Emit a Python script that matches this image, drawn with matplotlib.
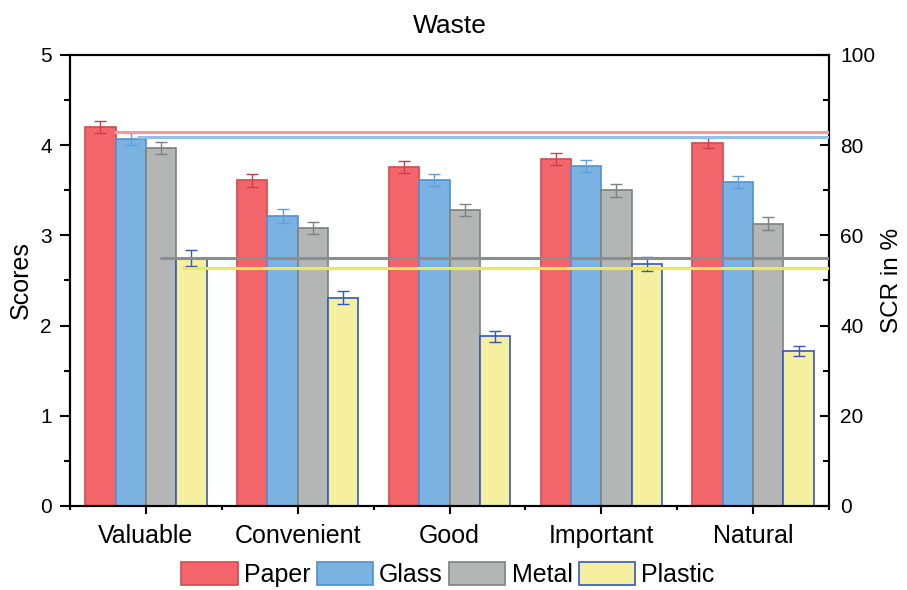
import matplotlib

matplotlib.use("Agg")
import matplotlib.pyplot as plt
import numpy as np
from matplotlib.patches import Patch
from matplotlib.ticker import MultipleLocator

plt.rcParams["font.family"] = ["Liberation Sans", "DejaVu Sans"]

categories = ["Valuable", "Convenient", "Good", "Important", "Natural"]
materials = ["Paper", "Glass", "Metal", "Plastic"]

paper = [4.20, 3.61, 3.76, 3.85, 4.02]
glass = [4.07, 3.22, 3.61, 3.77, 3.59]
metal = [3.97, 3.08, 3.28, 3.50, 3.13]
plastic = [2.75, 2.31, 1.88, 2.68, 1.72]

paper_err = [0.063, 0.07, 0.067, 0.065, 0.055]
glass_err = [0.065, 0.078, 0.068, 0.065, 0.065]
metal_err = [0.07, 0.07, 0.069, 0.07, 0.07]
plastic_err = [0.085, 0.074, 0.065, 0.075, 0.055]

# SCR per material, in percent, with the x where each reference line begins
scr = [82.9, 81.9, 54.9, 52.8]
scr_start = [0.79, 0.94, 1.09, 1.24]

fills = ["#F2666B", "#7AB3E1", "#B4B6B6", "#F4F0A0"]
edges = ["#D9474F", "#4F91D0", "#7E8080", "#3558B8"]
err_colors = ["#C8404A", "#5A9FE0", "#808080", "#3558B8"]
line_colors = ["#F29A9C", "#8EC2EC", "#8C8E8E", "#EDE85A"]

fig = plt.figure(figsize=(9.07, 5.9), dpi=100)
ax = fig.add_axes([0.0772, 0.1424, 0.8368, 0.7644])
ax2 = ax.twinx()

x = np.arange(1, len(categories) + 1)
width = 0.2
series = [paper, glass, metal, plastic]
errors = [paper_err, glass_err, metal_err, plastic_err]
for i, (vals, errs) in enumerate(zip(series, errors)):
    pos = x + (i - 1.5) * width
    ax.bar(pos, vals, width, color=fills[i], edgecolor=edges[i], linewidth=1.2, zorder=2)
    ax.errorbar(pos, vals, yerr=errs, fmt="none", ecolor=err_colors[i],
                elinewidth=1.0, capsize=4, capthick=1.0, zorder=3)

for i in range(len(materials)):
    ax2.plot([scr_start[i], 5.5], [scr[i], scr[i]], color=line_colors[i],
             linewidth=2.2, solid_capstyle="butt", zorder=4)

ax.set_xlim(0.5, 5.5)
ax.set_ylim(0, 5)
ax2.set_ylim(0, 100)
ax.set_xticks(x)
ax.set_xticklabels(categories)
ax.xaxis.set_minor_locator(MultipleLocator(1, offset=0.5))
ax.yaxis.set_major_locator(MultipleLocator(1))
ax.yaxis.set_minor_locator(MultipleLocator(0.5))
ax2.yaxis.set_major_locator(MultipleLocator(20))
ax2.yaxis.set_minor_locator(MultipleLocator(10))

for a in (ax, ax2):
    for s in a.spines.values():
        s.set_linewidth(1.5)
ax.tick_params(axis="y", which="major", direction="out", length=7, width=1.5, labelsize=15, pad=6)
ax.tick_params(axis="y", which="minor", direction="out", length=4.5, width=1.5)
ax.tick_params(axis="x", which="major", direction="out", length=6, width=1.5, labelsize=18, pad=7)
ax.tick_params(axis="x", which="minor", direction="out", length=3, width=1.5)
ax2.tick_params(axis="y", which="major", direction="in", length=6.5, width=1.5, labelsize=15, pad=8)
ax2.tick_params(axis="y", which="minor", direction="in", length=4, width=1.5)

ax.set_ylabel("Scores", fontsize=18, labelpad=5)
ax2.set_ylabel("SCR in %", fontsize=17.5, labelpad=4)
ax.set_title("Waste", fontsize=19, pad=16)

handles = [Patch(facecolor=fills[i], edgecolor=edges[i], linewidth=1.2) for i in range(4)]
fig.legend(handles, materials, loc="center", bbox_to_anchor=(0.494, 0.026), ncol=4,
           frameon=False, fontsize=18, handlelength=2.25, handleheight=1.05,
           handletextpad=0.25, columnspacing=0.25)

fig.savefig("out.png", dpi=100)
